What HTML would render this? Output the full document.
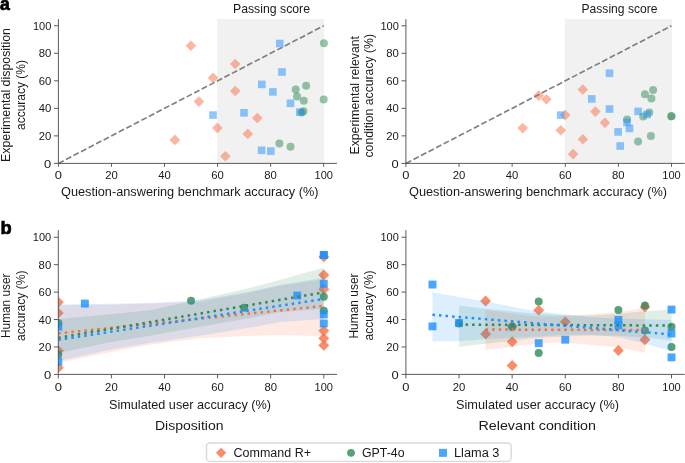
<!DOCTYPE html><html><head><meta charset="utf-8"><style>html,body{margin:0;padding:0;background:#fff;overflow:hidden}svg{display:block;will-change:transform}</style></head><body>
<svg width="685" height="463" viewBox="0 0 685 463" font-family='"Liberation Sans", sans-serif'>
<rect width="685" height="463" fill="#fff"/>
<rect x="217.20" y="18.90" width="106.70" height="144.50" fill="#f1f1f1"/>
<rect x="564.80" y="18.90" width="107.10" height="144.50" fill="#f1f1f1"/>
<path d="M190.90 40.40L196.20 45.70L190.90 51.00L185.60 45.70Z" fill="#FA6E44" fill-opacity="0.5"/>
<path d="M235.20 58.70L240.50 64.00L235.20 69.30L229.90 64.00Z" fill="#FA6E44" fill-opacity="0.5"/>
<path d="M213.00 72.60L218.30 77.90L213.00 83.20L207.70 77.90Z" fill="#FA6E44" fill-opacity="0.5"/>
<path d="M235.20 85.70L240.50 91.00L235.20 96.30L229.90 91.00Z" fill="#FA6E44" fill-opacity="0.5"/>
<path d="M198.90 96.30L204.20 101.60L198.90 106.90L193.60 101.60Z" fill="#FA6E44" fill-opacity="0.5"/>
<path d="M174.90 134.60L180.20 139.90L174.90 145.20L169.60 139.90Z" fill="#FA6E44" fill-opacity="0.5"/>
<path d="M217.40 122.60L222.70 127.90L217.40 133.20L212.10 127.90Z" fill="#FA6E44" fill-opacity="0.5"/>
<path d="M257.30 112.70L262.60 118.00L257.30 123.30L252.00 118.00Z" fill="#FA6E44" fill-opacity="0.5"/>
<path d="M247.80 128.60L253.10 133.90L247.80 139.20L242.50 133.90Z" fill="#FA6E44" fill-opacity="0.5"/>
<path d="M225.40 150.90L230.70 156.20L225.40 161.50L220.10 156.20Z" fill="#FA6E44" fill-opacity="0.5"/>
<circle cx="323.90" cy="43.20" r="4.00" fill="#2E8B57" fill-opacity="0.5"/>
<circle cx="306.10" cy="85.80" r="4.00" fill="#2E8B57" fill-opacity="0.5"/>
<circle cx="295.70" cy="89.50" r="4.00" fill="#2E8B57" fill-opacity="0.5"/>
<circle cx="297.00" cy="96.50" r="4.00" fill="#2E8B57" fill-opacity="0.5"/>
<circle cx="303.80" cy="100.70" r="4.00" fill="#2E8B57" fill-opacity="0.5"/>
<circle cx="323.70" cy="99.40" r="4.00" fill="#2E8B57" fill-opacity="0.5"/>
<circle cx="301.60" cy="112.50" r="4.00" fill="#2E8B57" fill-opacity="0.5"/>
<circle cx="303.50" cy="111.20" r="4.00" fill="#2E8B57" fill-opacity="0.5"/>
<circle cx="279.40" cy="143.40" r="4.00" fill="#2E8B57" fill-opacity="0.5"/>
<circle cx="290.50" cy="146.80" r="4.00" fill="#2E8B57" fill-opacity="0.5"/>
<rect x="276.00" y="39.70" width="7.60" height="7.60" fill="#1E90FF" fill-opacity="0.5"/>
<rect x="278.20" y="68.20" width="7.60" height="7.60" fill="#1E90FF" fill-opacity="0.5"/>
<rect x="258.00" y="80.60" width="7.60" height="7.60" fill="#1E90FF" fill-opacity="0.5"/>
<rect x="269.10" y="88.10" width="7.60" height="7.60" fill="#1E90FF" fill-opacity="0.5"/>
<rect x="286.70" y="99.50" width="7.60" height="7.60" fill="#1E90FF" fill-opacity="0.5"/>
<rect x="209.20" y="111.30" width="7.60" height="7.60" fill="#1E90FF" fill-opacity="0.5"/>
<rect x="240.20" y="109.00" width="7.60" height="7.60" fill="#1E90FF" fill-opacity="0.5"/>
<rect x="296.00" y="108.30" width="7.60" height="7.60" fill="#1E90FF" fill-opacity="0.5"/>
<rect x="257.80" y="146.50" width="7.60" height="7.60" fill="#1E90FF" fill-opacity="0.5"/>
<rect x="267.00" y="147.30" width="7.60" height="7.60" fill="#1E90FF" fill-opacity="0.5"/>
<path d="M522.70 122.80L528.00 128.10L522.70 133.40L517.40 128.10Z" fill="#FA6E44" fill-opacity="0.5"/>
<path d="M538.70 90.30L544.00 95.60L538.70 100.90L533.40 95.60Z" fill="#FA6E44" fill-opacity="0.5"/>
<path d="M546.40 93.90L551.70 99.20L546.40 104.50L541.10 99.20Z" fill="#FA6E44" fill-opacity="0.5"/>
<path d="M565.30 109.80L570.60 115.10L565.30 120.40L560.00 115.10Z" fill="#FA6E44" fill-opacity="0.5"/>
<path d="M560.80 125.00L566.10 130.30L560.80 135.60L555.50 130.30Z" fill="#FA6E44" fill-opacity="0.5"/>
<path d="M573.10 148.80L578.40 154.10L573.10 159.40L567.80 154.10Z" fill="#FA6E44" fill-opacity="0.5"/>
<path d="M582.90 133.90L588.20 139.20L582.90 144.50L577.60 139.20Z" fill="#FA6E44" fill-opacity="0.5"/>
<path d="M582.80 84.20L588.10 89.50L582.80 94.80L577.50 89.50Z" fill="#FA6E44" fill-opacity="0.5"/>
<path d="M595.40 106.30L600.70 111.60L595.40 116.90L590.10 111.60Z" fill="#FA6E44" fill-opacity="0.5"/>
<path d="M604.90 117.50L610.20 122.80L604.90 128.10L599.60 122.80Z" fill="#FA6E44" fill-opacity="0.5"/>
<circle cx="644.90" cy="94.30" r="4.00" fill="#2E8B57" fill-opacity="0.5"/>
<circle cx="653.10" cy="90.10" r="4.00" fill="#2E8B57" fill-opacity="0.5"/>
<circle cx="651.40" cy="98.60" r="4.00" fill="#2E8B57" fill-opacity="0.5"/>
<circle cx="627.10" cy="119.50" r="4.00" fill="#2E8B57" fill-opacity="0.5"/>
<circle cx="643.20" cy="116.60" r="4.00" fill="#2E8B57" fill-opacity="0.5"/>
<circle cx="649.30" cy="112.40" r="4.00" fill="#2E8B57" fill-opacity="0.5"/>
<circle cx="671.40" cy="116.20" r="4.00" fill="#2E8B57" fill-opacity="0.5"/>
<circle cx="671.40" cy="116.20" r="4.00" fill="#2E8B57" fill-opacity="0.5"/>
<circle cx="650.90" cy="136.00" r="4.00" fill="#2E8B57" fill-opacity="0.5"/>
<circle cx="638.10" cy="141.50" r="4.00" fill="#2E8B57" fill-opacity="0.5"/>
<rect x="605.70" y="69.50" width="7.60" height="7.60" fill="#1E90FF" fill-opacity="0.5"/>
<rect x="588.00" y="95.10" width="7.60" height="7.60" fill="#1E90FF" fill-opacity="0.5"/>
<rect x="605.70" y="105.20" width="7.60" height="7.60" fill="#1E90FF" fill-opacity="0.5"/>
<rect x="556.90" y="111.30" width="7.60" height="7.60" fill="#1E90FF" fill-opacity="0.5"/>
<rect x="634.30" y="107.60" width="7.60" height="7.60" fill="#1E90FF" fill-opacity="0.5"/>
<rect x="643.30" y="110.70" width="7.60" height="7.60" fill="#1E90FF" fill-opacity="0.5"/>
<rect x="623.20" y="118.60" width="7.60" height="7.60" fill="#1E90FF" fill-opacity="0.5"/>
<rect x="625.70" y="124.60" width="7.60" height="7.60" fill="#1E90FF" fill-opacity="0.5"/>
<rect x="614.30" y="128.10" width="7.60" height="7.60" fill="#1E90FF" fill-opacity="0.5"/>
<rect x="616.40" y="142.20" width="7.60" height="7.60" fill="#1E90FF" fill-opacity="0.5"/>
<line x1="58.40" y1="163.40" x2="323.70" y2="25.77" stroke="#7f7f7f" stroke-width="1.65" stroke-dasharray="5.93 2.57"/>
<line x1="58.40" y1="163.40" x2="58.40" y2="19.10" stroke="#4a4a4a" stroke-width="0.9"/>
<line x1="58.40" y1="163.40" x2="336.96" y2="163.40" stroke="#4a4a4a" stroke-width="0.9"/>
<line x1="54.00" y1="163.40" x2="58.40" y2="163.40" stroke="#4a4a4a" stroke-width="0.9"/>
<line x1="58.40" y1="163.40" x2="58.40" y2="166.80" stroke="#4a4a4a" stroke-width="0.9"/>
<line x1="54.00" y1="135.87" x2="58.40" y2="135.87" stroke="#4a4a4a" stroke-width="0.9"/>
<line x1="111.46" y1="163.40" x2="111.46" y2="166.80" stroke="#4a4a4a" stroke-width="0.9"/>
<line x1="54.00" y1="108.35" x2="58.40" y2="108.35" stroke="#4a4a4a" stroke-width="0.9"/>
<line x1="164.52" y1="163.40" x2="164.52" y2="166.80" stroke="#4a4a4a" stroke-width="0.9"/>
<line x1="54.00" y1="80.82" x2="58.40" y2="80.82" stroke="#4a4a4a" stroke-width="0.9"/>
<line x1="217.58" y1="163.40" x2="217.58" y2="166.80" stroke="#4a4a4a" stroke-width="0.9"/>
<line x1="54.00" y1="53.30" x2="58.40" y2="53.30" stroke="#4a4a4a" stroke-width="0.9"/>
<line x1="270.64" y1="163.40" x2="270.64" y2="166.80" stroke="#4a4a4a" stroke-width="0.9"/>
<line x1="54.00" y1="25.77" x2="58.40" y2="25.77" stroke="#4a4a4a" stroke-width="0.9"/>
<line x1="323.70" y1="163.40" x2="323.70" y2="166.80" stroke="#4a4a4a" stroke-width="0.9"/>
<text x="51.30" y="167.50" font-size="10.2" text-anchor="end" textLength="7.2" lengthAdjust="spacingAndGlyphs" fill="#1a1a1a">0</text>
<text x="58.40" y="178.80" font-size="10.2" text-anchor="middle" textLength="7.2" lengthAdjust="spacingAndGlyphs" fill="#1a1a1a">0</text>
<text x="51.30" y="139.97" font-size="10.2" text-anchor="end" textLength="12.6" lengthAdjust="spacingAndGlyphs" fill="#1a1a1a">20</text>
<text x="111.46" y="178.80" font-size="10.2" text-anchor="middle" textLength="12.6" lengthAdjust="spacingAndGlyphs" fill="#1a1a1a">20</text>
<text x="51.30" y="112.45" font-size="10.2" text-anchor="end" textLength="12.6" lengthAdjust="spacingAndGlyphs" fill="#1a1a1a">40</text>
<text x="164.52" y="178.80" font-size="10.2" text-anchor="middle" textLength="12.6" lengthAdjust="spacingAndGlyphs" fill="#1a1a1a">40</text>
<text x="51.30" y="84.92" font-size="10.2" text-anchor="end" textLength="12.6" lengthAdjust="spacingAndGlyphs" fill="#1a1a1a">60</text>
<text x="217.58" y="178.80" font-size="10.2" text-anchor="middle" textLength="12.6" lengthAdjust="spacingAndGlyphs" fill="#1a1a1a">60</text>
<text x="51.30" y="57.40" font-size="10.2" text-anchor="end" textLength="12.6" lengthAdjust="spacingAndGlyphs" fill="#1a1a1a">80</text>
<text x="270.64" y="178.80" font-size="10.2" text-anchor="middle" textLength="12.6" lengthAdjust="spacingAndGlyphs" fill="#1a1a1a">80</text>
<text x="51.30" y="29.87" font-size="10.2" text-anchor="end" textLength="18.4" lengthAdjust="spacingAndGlyphs" fill="#1a1a1a">100</text>
<text x="323.70" y="178.80" font-size="10.2" text-anchor="middle" textLength="18.4" lengthAdjust="spacingAndGlyphs" fill="#1a1a1a">100</text>
<line x1="405.90" y1="163.40" x2="671.50" y2="25.77" stroke="#7f7f7f" stroke-width="1.65" stroke-dasharray="5.93 2.57"/>
<line x1="405.90" y1="163.40" x2="405.90" y2="19.10" stroke="#4a4a4a" stroke-width="0.9"/>
<line x1="405.90" y1="163.40" x2="684.78" y2="163.40" stroke="#4a4a4a" stroke-width="0.9"/>
<line x1="401.50" y1="163.40" x2="405.90" y2="163.40" stroke="#4a4a4a" stroke-width="0.9"/>
<line x1="405.90" y1="163.40" x2="405.90" y2="166.80" stroke="#4a4a4a" stroke-width="0.9"/>
<line x1="401.50" y1="135.87" x2="405.90" y2="135.87" stroke="#4a4a4a" stroke-width="0.9"/>
<line x1="459.02" y1="163.40" x2="459.02" y2="166.80" stroke="#4a4a4a" stroke-width="0.9"/>
<line x1="401.50" y1="108.35" x2="405.90" y2="108.35" stroke="#4a4a4a" stroke-width="0.9"/>
<line x1="512.14" y1="163.40" x2="512.14" y2="166.80" stroke="#4a4a4a" stroke-width="0.9"/>
<line x1="401.50" y1="80.82" x2="405.90" y2="80.82" stroke="#4a4a4a" stroke-width="0.9"/>
<line x1="565.26" y1="163.40" x2="565.26" y2="166.80" stroke="#4a4a4a" stroke-width="0.9"/>
<line x1="401.50" y1="53.30" x2="405.90" y2="53.30" stroke="#4a4a4a" stroke-width="0.9"/>
<line x1="618.38" y1="163.40" x2="618.38" y2="166.80" stroke="#4a4a4a" stroke-width="0.9"/>
<line x1="401.50" y1="25.77" x2="405.90" y2="25.77" stroke="#4a4a4a" stroke-width="0.9"/>
<line x1="671.50" y1="163.40" x2="671.50" y2="166.80" stroke="#4a4a4a" stroke-width="0.9"/>
<text x="398.80" y="167.50" font-size="10.2" text-anchor="end" textLength="7.2" lengthAdjust="spacingAndGlyphs" fill="#1a1a1a">0</text>
<text x="405.90" y="178.80" font-size="10.2" text-anchor="middle" textLength="7.2" lengthAdjust="spacingAndGlyphs" fill="#1a1a1a">0</text>
<text x="398.80" y="139.97" font-size="10.2" text-anchor="end" textLength="12.6" lengthAdjust="spacingAndGlyphs" fill="#1a1a1a">20</text>
<text x="459.02" y="178.80" font-size="10.2" text-anchor="middle" textLength="12.6" lengthAdjust="spacingAndGlyphs" fill="#1a1a1a">20</text>
<text x="398.80" y="112.45" font-size="10.2" text-anchor="end" textLength="12.6" lengthAdjust="spacingAndGlyphs" fill="#1a1a1a">40</text>
<text x="512.14" y="178.80" font-size="10.2" text-anchor="middle" textLength="12.6" lengthAdjust="spacingAndGlyphs" fill="#1a1a1a">40</text>
<text x="398.80" y="84.92" font-size="10.2" text-anchor="end" textLength="12.6" lengthAdjust="spacingAndGlyphs" fill="#1a1a1a">60</text>
<text x="565.26" y="178.80" font-size="10.2" text-anchor="middle" textLength="12.6" lengthAdjust="spacingAndGlyphs" fill="#1a1a1a">60</text>
<text x="398.80" y="57.40" font-size="10.2" text-anchor="end" textLength="12.6" lengthAdjust="spacingAndGlyphs" fill="#1a1a1a">80</text>
<text x="618.38" y="178.80" font-size="10.2" text-anchor="middle" textLength="12.6" lengthAdjust="spacingAndGlyphs" fill="#1a1a1a">80</text>
<text x="398.80" y="29.87" font-size="10.2" text-anchor="end" textLength="18.4" lengthAdjust="spacingAndGlyphs" fill="#1a1a1a">100</text>
<text x="671.50" y="178.80" font-size="10.2" text-anchor="middle" textLength="18.4" lengthAdjust="spacingAndGlyphs" fill="#1a1a1a">100</text>
<text x="232.99" y="13.20" font-size="12.8" textLength="77.0" lengthAdjust="spacingAndGlyphs" fill="#1a1a1a">Passing score</text>
<text x="581.50" y="13.10" font-size="12.8" textLength="76.0" lengthAdjust="spacingAndGlyphs" fill="#1a1a1a">Passing score</text>
<text x="61.00" y="195.60" font-size="12.5" textLength="257.5" lengthAdjust="spacingAndGlyphs" fill="#1a1a1a">Question-answering benchmark accuracy (%)</text>
<text x="409.00" y="195.60" font-size="12.5" textLength="258.0" lengthAdjust="spacingAndGlyphs" fill="#1a1a1a">Question-answering benchmark accuracy (%)</text>
<text x="10.30" y="162.00" font-size="12.5" textLength="134.01" lengthAdjust="spacingAndGlyphs" fill="#1a1a1a" transform="rotate(-90 10.30 162.00)">Experimental disposition</text>
<text x="25.40" y="130.01" font-size="12.5" textLength="70.02" lengthAdjust="spacingAndGlyphs" fill="#1a1a1a" transform="rotate(-90 25.40 130.01)">accuracy (%)</text>
<text x="358.60" y="154.50" font-size="12.5" textLength="118.50" lengthAdjust="spacingAndGlyphs" fill="#1a1a1a" transform="rotate(-90 358.60 154.50)">Experimental relevant</text>
<text x="373.40" y="157.50" font-size="12.5" textLength="123.50" lengthAdjust="spacingAndGlyphs" fill="#1a1a1a" transform="rotate(-90 373.40 157.50)">condition accuracy (%)</text>
<text x="0.10" y="9.60" font-size="17.6" font-weight="bold" fill="#000" stroke="#000" stroke-width="0.7">a</text>
<text x="0.40" y="233.80" font-size="18.3" font-weight="bold" fill="#000" stroke="#000" stroke-width="0.7">b</text>
<clipPath id="cl"><rect x="58.30" y="225" width="278.77" height="149.40"/></clipPath>
<clipPath id="cr"><rect x="405.90" y="225" width="278.88" height="149.40"/></clipPath>
<g clip-path="url(#cl)">
<path d="M58.30 296.85L63.75 302.30L58.30 307.75L52.85 302.30Z" fill="#FA6E44" fill-opacity="0.8"/>
<path d="M58.30 307.44L63.75 312.89L58.30 318.34L52.85 312.89Z" fill="#FA6E44" fill-opacity="0.8"/>
<path d="M58.30 345.28L63.75 350.73L58.30 356.18L52.85 350.73Z" fill="#FA6E44" fill-opacity="0.8"/>
<path d="M58.30 362.21L63.75 367.66L58.30 373.11L52.85 367.66Z" fill="#FA6E44" fill-opacity="0.8"/>
<path d="M323.80 251.44L329.25 256.89L323.80 262.34L318.35 256.89Z" fill="#FA6E44" fill-opacity="0.8"/>
<path d="M323.80 269.60L329.25 275.05L323.80 280.50L318.35 275.05Z" fill="#FA6E44" fill-opacity="0.8"/>
<path d="M323.80 283.78L329.25 289.23L323.80 294.68L318.35 289.23Z" fill="#FA6E44" fill-opacity="0.8"/>
<path d="M323.80 325.33L329.25 330.78L323.80 336.23L318.35 330.78Z" fill="#FA6E44" fill-opacity="0.8"/>
<path d="M323.80 332.90L329.25 338.35L323.80 343.80L318.35 338.35Z" fill="#FA6E44" fill-opacity="0.8"/>
<path d="M323.80 339.92L329.25 345.37L323.80 350.82L318.35 345.37Z" fill="#FA6E44" fill-opacity="0.8"/>
<path d="M58.30 305.19L110.07 304.77L149.90 303.40L200.08 301.75L250.26 292.39L279.99 285.79L323.80 279.18L323.80 336.15L279.99 334.91L250.26 335.87L200.08 338.35L149.90 344.82L110.07 352.25L58.30 362.98Z" fill="#FA6E44" fill-opacity="0.15"/>
<circle cx="58.30" cy="322.94" r="4.00" fill="#2E8B57" fill-opacity="0.8"/>
<circle cx="58.30" cy="354.45" r="4.00" fill="#2E8B57" fill-opacity="0.8"/>
<circle cx="191.05" cy="300.65" r="4.00" fill="#2E8B57" fill-opacity="0.8"/>
<circle cx="244.15" cy="307.80" r="4.00" fill="#2E8B57" fill-opacity="0.8"/>
<circle cx="323.80" cy="296.79" r="4.00" fill="#2E8B57" fill-opacity="0.8"/>
<circle cx="323.80" cy="310.83" r="4.00" fill="#2E8B57" fill-opacity="0.8"/>
<path d="M58.30 318.95L110.07 314.13L149.90 310.14L200.08 299.27L250.26 287.85L279.99 280.01L323.80 267.48L323.80 308.63L279.99 312.20L250.26 317.98L200.08 326.79L149.90 335.87L110.07 342.20L58.30 353.07Z" fill="#2E8B57" fill-opacity="0.15"/>
<rect x="54.35" y="322.70" width="7.90" height="7.90" fill="#1E90FF" fill-opacity="0.8"/>
<rect x="54.35" y="357.79" width="7.90" height="7.90" fill="#1E90FF" fill-opacity="0.8"/>
<rect x="80.90" y="299.59" width="7.90" height="7.90" fill="#1E90FF" fill-opacity="0.8"/>
<rect x="293.30" y="291.61" width="7.90" height="7.90" fill="#1E90FF" fill-opacity="0.8"/>
<rect x="319.85" y="251.01" width="7.90" height="7.90" fill="#1E90FF" fill-opacity="0.8"/>
<rect x="319.85" y="251.01" width="7.90" height="7.90" fill="#1E90FF" fill-opacity="0.8"/>
<rect x="319.85" y="279.77" width="7.90" height="7.90" fill="#1E90FF" fill-opacity="0.8"/>
<rect x="319.85" y="310.46" width="7.90" height="7.90" fill="#1E90FF" fill-opacity="0.8"/>
<rect x="319.85" y="319.54" width="7.90" height="7.90" fill="#1E90FF" fill-opacity="0.8"/>
<path d="M58.30 304.50L110.07 303.67L149.90 303.12L200.08 300.37L250.26 291.56L279.99 284.96L323.80 277.80L323.80 318.95L279.99 322.11L250.26 327.62L200.08 335.87L149.90 342.75L110.07 349.63L58.30 360.92Z" fill="#1E90FF" fill-opacity="0.15"/>
<line x1="58.30" y1="333.40" x2="323.80" y2="305.88" stroke="#FA6E44" stroke-width="2.5" stroke-dasharray="2.48 4.08" stroke-dashoffset="0"/>
<line x1="58.30" y1="337.80" x2="323.80" y2="292.39" stroke="#2E8B57" stroke-width="2.5" stroke-dasharray="2.48 4.08" stroke-dashoffset="0"/>
<line x1="58.30" y1="339.86" x2="323.80" y2="299.00" stroke="#1E90FF" stroke-width="2.5" stroke-dasharray="2.48 4.08" stroke-dashoffset="0"/>
</g>
<line x1="58.30" y1="374.40" x2="58.30" y2="230.10" stroke="#4a4a4a" stroke-width="0.9"/>
<line x1="58.30" y1="374.40" x2="337.07" y2="374.40" stroke="#4a4a4a" stroke-width="0.9"/>
<line x1="53.90" y1="374.40" x2="58.30" y2="374.40" stroke="#4a4a4a" stroke-width="0.9"/>
<line x1="58.30" y1="374.40" x2="58.30" y2="378.40" stroke="#4a4a4a" stroke-width="0.9"/>
<line x1="53.90" y1="346.97" x2="58.30" y2="346.97" stroke="#4a4a4a" stroke-width="0.9"/>
<line x1="111.40" y1="374.40" x2="111.40" y2="378.40" stroke="#4a4a4a" stroke-width="0.9"/>
<line x1="53.90" y1="319.54" x2="58.30" y2="319.54" stroke="#4a4a4a" stroke-width="0.9"/>
<line x1="164.50" y1="374.40" x2="164.50" y2="378.40" stroke="#4a4a4a" stroke-width="0.9"/>
<line x1="53.90" y1="292.12" x2="58.30" y2="292.12" stroke="#4a4a4a" stroke-width="0.9"/>
<line x1="217.60" y1="374.40" x2="217.60" y2="378.40" stroke="#4a4a4a" stroke-width="0.9"/>
<line x1="53.90" y1="264.69" x2="58.30" y2="264.69" stroke="#4a4a4a" stroke-width="0.9"/>
<line x1="270.70" y1="374.40" x2="270.70" y2="378.40" stroke="#4a4a4a" stroke-width="0.9"/>
<line x1="53.90" y1="237.26" x2="58.30" y2="237.26" stroke="#4a4a4a" stroke-width="0.9"/>
<line x1="323.80" y1="374.40" x2="323.80" y2="378.40" stroke="#4a4a4a" stroke-width="0.9"/>
<text x="51.20" y="378.50" font-size="10.2" text-anchor="end" textLength="7.2" lengthAdjust="spacingAndGlyphs" fill="#1a1a1a">0</text>
<text x="58.30" y="390.60" font-size="10.2" text-anchor="middle" textLength="7.2" lengthAdjust="spacingAndGlyphs" fill="#1a1a1a">0</text>
<text x="51.20" y="351.07" font-size="10.2" text-anchor="end" textLength="12.6" lengthAdjust="spacingAndGlyphs" fill="#1a1a1a">20</text>
<text x="111.40" y="390.60" font-size="10.2" text-anchor="middle" textLength="12.6" lengthAdjust="spacingAndGlyphs" fill="#1a1a1a">20</text>
<text x="51.20" y="323.64" font-size="10.2" text-anchor="end" textLength="12.6" lengthAdjust="spacingAndGlyphs" fill="#1a1a1a">40</text>
<text x="164.50" y="390.60" font-size="10.2" text-anchor="middle" textLength="12.6" lengthAdjust="spacingAndGlyphs" fill="#1a1a1a">40</text>
<text x="51.20" y="296.22" font-size="10.2" text-anchor="end" textLength="12.6" lengthAdjust="spacingAndGlyphs" fill="#1a1a1a">60</text>
<text x="217.60" y="390.60" font-size="10.2" text-anchor="middle" textLength="12.6" lengthAdjust="spacingAndGlyphs" fill="#1a1a1a">60</text>
<text x="51.20" y="268.79" font-size="10.2" text-anchor="end" textLength="12.6" lengthAdjust="spacingAndGlyphs" fill="#1a1a1a">80</text>
<text x="270.70" y="390.60" font-size="10.2" text-anchor="middle" textLength="12.6" lengthAdjust="spacingAndGlyphs" fill="#1a1a1a">80</text>
<text x="51.20" y="241.36" font-size="10.2" text-anchor="end" textLength="18.4" lengthAdjust="spacingAndGlyphs" fill="#1a1a1a">100</text>
<text x="323.80" y="390.60" font-size="10.2" text-anchor="middle" textLength="18.4" lengthAdjust="spacingAndGlyphs" fill="#1a1a1a">100</text>
<g clip-path="url(#cr)">
<path d="M485.58 295.61L491.03 301.06L485.58 306.51L480.13 301.06Z" fill="#FA6E44" fill-opacity="0.8"/>
<path d="M485.58 328.50L491.03 333.95L485.58 339.40L480.13 333.95Z" fill="#FA6E44" fill-opacity="0.8"/>
<path d="M512.14 320.79L517.59 326.24L512.14 331.69L506.69 326.24Z" fill="#FA6E44" fill-opacity="0.8"/>
<path d="M512.14 336.34L517.59 341.79L512.14 347.24L506.69 341.79Z" fill="#FA6E44" fill-opacity="0.8"/>
<path d="M512.14 360.01L517.59 365.46L512.14 370.91L506.69 365.46Z" fill="#FA6E44" fill-opacity="0.8"/>
<path d="M538.70 304.69L544.15 310.14L538.70 315.59L533.25 310.14Z" fill="#FA6E44" fill-opacity="0.8"/>
<path d="M565.26 316.39L570.71 321.84L565.26 327.29L559.81 321.84Z" fill="#FA6E44" fill-opacity="0.8"/>
<path d="M618.38 345.01L623.83 350.46L618.38 355.91L612.93 350.46Z" fill="#FA6E44" fill-opacity="0.8"/>
<path d="M644.94 301.53L650.39 306.98L644.94 312.43L639.49 306.98Z" fill="#FA6E44" fill-opacity="0.8"/>
<path d="M644.94 334.27L650.39 339.72L644.94 345.17L639.49 339.72Z" fill="#FA6E44" fill-opacity="0.8"/>
<path d="M485.58 309.87L499.92 311.79L529.94 316.20L555.70 316.61L579.87 314.96L618.38 312.34L644.94 307.66L644.94 352.66L618.38 347.57L579.87 343.85L555.70 342.61L529.94 344.13L499.92 348.53L485.58 350.04Z" fill="#FA6E44" fill-opacity="0.15"/>
<circle cx="459.02" cy="323.49" r="4.00" fill="#2E8B57" fill-opacity="0.8"/>
<circle cx="512.14" cy="327.07" r="4.00" fill="#2E8B57" fill-opacity="0.8"/>
<circle cx="538.70" cy="301.47" r="4.00" fill="#2E8B57" fill-opacity="0.8"/>
<circle cx="538.70" cy="353.07" r="4.00" fill="#2E8B57" fill-opacity="0.8"/>
<circle cx="618.38" cy="310.00" r="4.00" fill="#2E8B57" fill-opacity="0.8"/>
<circle cx="644.94" cy="305.46" r="4.00" fill="#2E8B57" fill-opacity="0.8"/>
<circle cx="644.94" cy="330.51" r="4.00" fill="#2E8B57" fill-opacity="0.8"/>
<circle cx="671.50" cy="326.65" r="4.00" fill="#2E8B57" fill-opacity="0.8"/>
<circle cx="671.50" cy="347.02" r="4.00" fill="#2E8B57" fill-opacity="0.8"/>
<path d="M459.02 305.60L485.58 308.63L529.94 313.17L565.26 315.23L591.82 315.78L618.38 313.86L644.94 311.24L671.50 309.59L671.50 340.28L644.94 337.80L618.38 335.87L591.82 335.46L565.26 336.15L529.94 338.62L485.58 343.72L459.02 346.74Z" fill="#2E8B57" fill-opacity="0.15"/>
<rect x="428.51" y="280.60" width="7.90" height="7.90" fill="#1E90FF" fill-opacity="0.8"/>
<rect x="428.51" y="322.43" width="7.90" height="7.90" fill="#1E90FF" fill-opacity="0.8"/>
<rect x="455.07" y="318.99" width="7.90" height="7.90" fill="#1E90FF" fill-opacity="0.8"/>
<rect x="534.75" y="339.21" width="7.90" height="7.90" fill="#1E90FF" fill-opacity="0.8"/>
<rect x="561.31" y="335.77" width="7.90" height="7.90" fill="#1E90FF" fill-opacity="0.8"/>
<rect x="614.43" y="315.96" width="7.90" height="7.90" fill="#1E90FF" fill-opacity="0.8"/>
<rect x="614.43" y="321.46" width="7.90" height="7.90" fill="#1E90FF" fill-opacity="0.8"/>
<rect x="667.55" y="305.64" width="7.90" height="7.90" fill="#1E90FF" fill-opacity="0.8"/>
<rect x="667.55" y="329.58" width="7.90" height="7.90" fill="#1E90FF" fill-opacity="0.8"/>
<rect x="667.55" y="353.39" width="7.90" height="7.90" fill="#1E90FF" fill-opacity="0.8"/>
<path d="M432.46 292.25L459.02 296.93L485.58 301.61L529.94 310.14L565.26 314.54L591.82 317.30L618.38 318.67L644.94 319.36L671.50 319.91L671.50 351.56L644.94 343.44L618.38 337.25L591.82 334.63L565.26 334.77L529.94 336.97L485.58 339.17L459.02 341.24L432.46 341.24Z" fill="#1E90FF" fill-opacity="0.15"/>
<line x1="485.58" y1="329.54" x2="644.94" y2="330.09" stroke="#FA6E44" stroke-width="2.5" stroke-dasharray="2.48 4.08" stroke-dashoffset="0"/>
<line x1="459.02" y1="324.59" x2="671.50" y2="325.55" stroke="#2E8B57" stroke-width="2.5" stroke-dasharray="2.48 4.08" stroke-dashoffset="0"/>
<line x1="432.46" y1="314.82" x2="671.50" y2="334.50" stroke="#1E90FF" stroke-width="2.5" stroke-dasharray="2.48 4.08" stroke-dashoffset="0"/>
</g>
<line x1="405.90" y1="374.40" x2="405.90" y2="230.10" stroke="#4a4a4a" stroke-width="0.9"/>
<line x1="405.90" y1="374.40" x2="684.78" y2="374.40" stroke="#4a4a4a" stroke-width="0.9"/>
<line x1="401.50" y1="374.40" x2="405.90" y2="374.40" stroke="#4a4a4a" stroke-width="0.9"/>
<line x1="405.90" y1="374.40" x2="405.90" y2="378.40" stroke="#4a4a4a" stroke-width="0.9"/>
<line x1="401.50" y1="346.97" x2="405.90" y2="346.97" stroke="#4a4a4a" stroke-width="0.9"/>
<line x1="459.02" y1="374.40" x2="459.02" y2="378.40" stroke="#4a4a4a" stroke-width="0.9"/>
<line x1="401.50" y1="319.54" x2="405.90" y2="319.54" stroke="#4a4a4a" stroke-width="0.9"/>
<line x1="512.14" y1="374.40" x2="512.14" y2="378.40" stroke="#4a4a4a" stroke-width="0.9"/>
<line x1="401.50" y1="292.12" x2="405.90" y2="292.12" stroke="#4a4a4a" stroke-width="0.9"/>
<line x1="565.26" y1="374.40" x2="565.26" y2="378.40" stroke="#4a4a4a" stroke-width="0.9"/>
<line x1="401.50" y1="264.69" x2="405.90" y2="264.69" stroke="#4a4a4a" stroke-width="0.9"/>
<line x1="618.38" y1="374.40" x2="618.38" y2="378.40" stroke="#4a4a4a" stroke-width="0.9"/>
<line x1="401.50" y1="237.26" x2="405.90" y2="237.26" stroke="#4a4a4a" stroke-width="0.9"/>
<line x1="671.50" y1="374.40" x2="671.50" y2="378.40" stroke="#4a4a4a" stroke-width="0.9"/>
<text x="398.80" y="378.50" font-size="10.2" text-anchor="end" textLength="7.2" lengthAdjust="spacingAndGlyphs" fill="#1a1a1a">0</text>
<text x="405.90" y="390.60" font-size="10.2" text-anchor="middle" textLength="7.2" lengthAdjust="spacingAndGlyphs" fill="#1a1a1a">0</text>
<text x="398.80" y="351.07" font-size="10.2" text-anchor="end" textLength="12.6" lengthAdjust="spacingAndGlyphs" fill="#1a1a1a">20</text>
<text x="459.02" y="390.60" font-size="10.2" text-anchor="middle" textLength="12.6" lengthAdjust="spacingAndGlyphs" fill="#1a1a1a">20</text>
<text x="398.80" y="323.64" font-size="10.2" text-anchor="end" textLength="12.6" lengthAdjust="spacingAndGlyphs" fill="#1a1a1a">40</text>
<text x="512.14" y="390.60" font-size="10.2" text-anchor="middle" textLength="12.6" lengthAdjust="spacingAndGlyphs" fill="#1a1a1a">40</text>
<text x="398.80" y="296.22" font-size="10.2" text-anchor="end" textLength="12.6" lengthAdjust="spacingAndGlyphs" fill="#1a1a1a">60</text>
<text x="565.26" y="390.60" font-size="10.2" text-anchor="middle" textLength="12.6" lengthAdjust="spacingAndGlyphs" fill="#1a1a1a">60</text>
<text x="398.80" y="268.79" font-size="10.2" text-anchor="end" textLength="12.6" lengthAdjust="spacingAndGlyphs" fill="#1a1a1a">80</text>
<text x="618.38" y="390.60" font-size="10.2" text-anchor="middle" textLength="12.6" lengthAdjust="spacingAndGlyphs" fill="#1a1a1a">80</text>
<text x="398.80" y="241.36" font-size="10.2" text-anchor="end" textLength="18.4" lengthAdjust="spacingAndGlyphs" fill="#1a1a1a">100</text>
<text x="671.50" y="390.60" font-size="10.2" text-anchor="middle" textLength="18.4" lengthAdjust="spacingAndGlyphs" fill="#1a1a1a">100</text>
<rect x="206.5" y="443.0" width="304.6" height="18.4" rx="3.5" fill="#fff" stroke="#d9d9d9" stroke-width="1.4"/>
<path d="M221.05 447.65L226.25 452.85L221.05 458.05L215.85 452.85Z" fill="#FA6E44" fill-opacity="0.8"/>
<circle cx="351.00" cy="452.85" r="3.90" fill="#2E8B57" fill-opacity="0.8"/>
<rect x="439.00" y="448.85" width="8.00" height="8.00" fill="#1E90FF" fill-opacity="0.8"/>
<text x="109.00" y="408.90" font-size="12.7" textLength="162.0" lengthAdjust="spacingAndGlyphs" fill="#1a1a1a">Simulated user accuracy (%)</text>
<text x="456.00" y="408.90" font-size="12.7" textLength="163.0" lengthAdjust="spacingAndGlyphs" fill="#1a1a1a">Simulated user accuracy (%)</text>
<text x="155.00" y="430.20" font-size="13.4" textLength="68.5" lengthAdjust="spacingAndGlyphs" fill="#1a1a1a">Disposition</text>
<text x="478.48" y="430.20" font-size="13.4" textLength="117.5" lengthAdjust="spacingAndGlyphs" fill="#1a1a1a">Relevant condition</text>
<text x="10.00" y="338.00" font-size="12.5" textLength="64.50" lengthAdjust="spacingAndGlyphs" fill="#1a1a1a" transform="rotate(-90 10.00 338.00)">Human user</text>
<text x="25.00" y="341.00" font-size="12.5" textLength="70.51" lengthAdjust="spacingAndGlyphs" fill="#1a1a1a" transform="rotate(-90 25.00 341.00)">accuracy (%)</text>
<text x="357.80" y="338.51" font-size="12.5" textLength="65.02" lengthAdjust="spacingAndGlyphs" fill="#1a1a1a" transform="rotate(-90 357.80 338.51)">Human user</text>
<text x="373.20" y="340.51" font-size="12.5" textLength="70.02" lengthAdjust="spacingAndGlyphs" fill="#1a1a1a" transform="rotate(-90 373.20 340.51)">accuracy (%)</text>
<text x="233.49" y="456.80" font-size="12.0" textLength="77.5" lengthAdjust="spacingAndGlyphs" fill="#1a1a1a">Command R+</text>
<text x="362.00" y="456.90" font-size="12.0" textLength="42.5" lengthAdjust="spacingAndGlyphs" fill="#1a1a1a">GPT-4o</text>
<text x="453.97" y="456.60" font-size="12.0" textLength="45.5" lengthAdjust="spacingAndGlyphs" fill="#1a1a1a">Llama 3</text>
</svg></body></html>
